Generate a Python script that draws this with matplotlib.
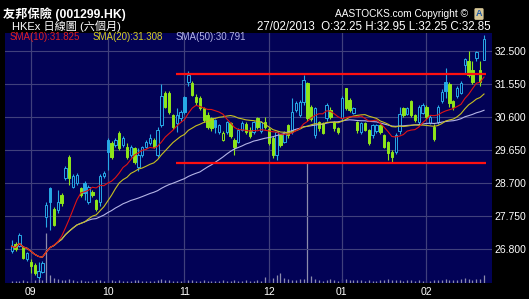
import numpy as np
import pandas as pd
import matplotlib
matplotlib.use('Agg')
import matplotlib.pyplot as plt
from matplotlib.patches import Rectangle

# dias de negociacao HKEx (27/08/2012 a 27/02/2013), sem feriados
feriados = ['2012-10-01', '2012-10-02', '2012-10-23', '2012-12-25', '2012-12-26',
            '2013-01-01', '2013-02-11', '2013-02-12', '2013-02-13']
dias = pd.bdate_range('2012-08-27', '2013-02-27')
dias = dias[~dias.isin(pd.to_datetime(feriados))]

# OHLC (ago | set | out | nov | dez | jan | fev)
abertura = [26.75, 26.95, 26.90, 26.85, 26.50,
            26.42, 26.34, 26.00, 26.14, 27.72, 28.56, 27.95, 27.92, 28.35, 28.84, 29.45, 28.59, 28.70, 28.56, 28.70, 28.15, 28.44, 28.20, 28.15, 28.89,
            29.94, 29.85, 29.80, 30.15, 29.80, 29.75, 29.50, 29.70, 29.15, 29.50, 29.75, 29.85, 29.95, 29.50, 30.37, 31.28, 31.29, 30.66, 30.43, 30.57,
            31.17, 31.60, 31.58, 31.17, 31.14, 30.86, 30.66, 30.57, 30.51, 30.17, 29.94, 30.17, 30.43, 29.95, 29.88, 30.23, 30.40, 30.23, 30.17, 30.57, 30.20, 30.46,
            30.25, 30.00, 29.50, 30.08, 29.88, 30.37, 30.17, 30.80, 30.66, 31.03, 31.58, 30.89, 30.08, 30.46, 30.43, 30.57, 30.80, 30.46, 30.28,
            30.57, 31.43, 31.09, 30.72, 30.46, 30.17, 30.43, 30.23, 30.08, 30.20, 30.37, 30.08, 29.88, 29.60, 29.60, 30.20, 30.85, 30.70, 31.05, 30.66, 30.46, 30.72,
            30.90, 30.43, 30.30, 30.46, 31.05, 31.62, 31.55, 31.05, 31.20, 31.30, 32.10, 32.20, 31.95, 32.30, 31.95, 32.25]
maxima = [27.05, 27.00, 27.25, 26.90, 26.72,
          26.50, 26.40, 26.43, 26.45, 28.15, 28.60, 28.00, 28.50, 28.40, 29.20, 29.50, 28.95, 29.00, 28.60, 28.75, 28.65, 28.50, 28.25, 28.95, 29.05,
          30.00, 29.90, 30.00, 30.20, 30.05, 29.85, 29.80, 29.75, 29.70, 29.78, 29.95, 30.10, 30.00, 30.30, 31.55, 31.35, 31.35, 30.70, 30.86, 30.80,
          31.20, 31.92, 31.65, 31.25, 31.20, 30.90, 30.75, 30.60, 30.55, 30.40, 30.20, 30.50, 30.45, 30.00, 30.28, 30.50, 30.45, 30.30, 30.50, 30.60, 30.50, 30.60,
          30.30, 30.05, 30.20, 30.10, 30.20, 30.40, 31.15, 31.05, 31.10, 31.81, 31.62, 30.95, 30.90, 30.50, 30.45, 31.00, 30.90, 30.50, 30.32,
          31.20, 31.45, 31.15, 30.90, 30.50, 30.47, 30.47, 30.25, 30.40, 30.40, 30.40, 30.10, 29.90, 29.65, 30.15, 30.90, 30.90, 30.90, 31.10, 30.70, 30.95, 31.00,
          30.95, 30.65, 30.40, 30.95, 31.40, 32.00, 31.60, 31.10, 31.50, 31.65, 32.30, 32.50, 32.20, 32.50, 32.20, 32.95]
minimas = [26.70, 26.75, 26.85, 26.50, 26.45,
           26.10, 26.05, 25.95, 26.10, 27.43, 27.35, 27.45, 27.85, 28.05, 28.80, 28.64, 28.55, 28.65, 28.30, 28.20, 28.10, 28.30, 27.90, 28.05, 28.85,
           29.07, 29.40, 29.75, 29.65, 29.75, 29.40, 29.45, 29.25, 29.05, 29.45, 29.70, 29.80, 29.70, 29.45, 30.30, 30.85, 30.70, 30.25, 30.17, 30.50,
           30.70, 31.50, 31.20, 30.95, 30.80, 30.45, 30.25, 30.20, 30.15, 30.10, 29.90, 30.10, 30.00, 29.50, 29.85, 30.20, 30.10, 30.00, 30.10, 30.25, 30.15, 30.25,
           29.80, 29.42, 29.35, 29.75, 29.85, 30.00, 30.10, 30.75, 30.60, 30.95, 30.50, 30.50, 30.00, 30.20, 30.10, 30.50, 30.55, 30.20, 30.10,
           30.50, 30.80, 30.75, 30.70, 30.15, 30.10, 30.20, 29.80, 30.00, 30.15, 30.10, 29.70, 29.36, 29.30, 29.55, 30.10, 30.60, 30.65, 30.60, 30.45, 30.40, 30.70,
           30.55, 30.40, 29.90, 30.40, 31.00, 31.15, 30.90, 30.80, 31.15, 31.25, 31.88, 31.75, 31.55, 32.20, 31.50, 32.25]
fechamento = [26.88, 26.80, 27.20, 26.55, 26.68,
              26.30, 26.12, 26.16, 26.40, 28.07, 28.15, 27.50, 28.15, 28.12, 29.13, 28.85, 28.90, 28.93, 28.35, 28.40, 28.60, 28.36, 27.95, 28.89, 29.00,
              29.60, 29.45, 29.94, 29.70, 30.00, 29.45, 29.75, 29.30, 29.50, 29.74, 29.88, 30.00, 29.75, 30.23, 31.20, 30.90, 30.75, 30.30, 30.66, 30.74,
              30.75, 31.81, 31.23, 31.03, 30.86, 30.51, 30.31, 30.28, 30.30, 30.37, 30.14, 30.46, 30.05, 29.75, 30.23, 30.43, 30.17, 30.05, 30.46, 30.30, 30.46, 30.30,
              29.85, 29.50, 30.17, 29.80, 30.17, 30.08, 30.74, 31.00, 31.03, 31.67, 30.57, 30.55, 30.86, 30.28, 30.15, 30.95, 30.60, 30.28, 30.17,
              31.14, 30.86, 30.80, 30.86, 30.23, 30.43, 30.23, 29.85, 30.37, 30.38, 30.17, 29.74, 29.56, 29.45, 30.08, 30.70, 30.65, 30.86, 30.66, 30.51, 30.89, 30.95,
              30.60, 30.60, 29.98, 30.90, 31.32, 31.35, 31.00, 30.88, 31.45, 31.58, 32.27, 31.82, 31.60, 32.47, 31.60, 32.85]
# volume (milhoes, aproximado pela altura das barras)
volume = [12, 14, 10, 16, 12,
          14, 18, 22, 20, 290, 45, 30, 22, 18, 20, 24, 16, 14, 18, 14, 12, 14, 16, 18, 14,
          20, 16, 14, 18, 12, 14, 12, 16, 18, 14, 12, 14, 12, 16, 22, 18, 16, 14, 12, 14,
          16, 20, 18, 14, 12, 16, 14, 12, 14, 12, 16, 14, 12, 18, 14, 12, 16, 14, 12, 18, 14, 35,
          22, 28, 45, 60, 30, 24, 20, 18, 22, 26, 700, 40, 24, 18, 14, 16, 22, 18, 14,
          26, 22, 18, 16, 20, 18, 14, 16, 14, 12, 16, 18, 22, 20, 18, 16, 14, 16, 18, 14, 16, 14,
          12, 14, 18, 16, 20, 24, 18, 16, 20, 22, 28, 24, 20, 26, 22, 48]

# linhas de suporte/resistencia desenhadas no grafico
resistencia = 31.83
suporte = 29.29
linha_inicio, linha_fim = 42.8, 123.5

titulo = '友邦保險 (001299.HK)'
subtitulo = 'HKEx 日線圖 (六個月)'
cabecalho = '27/02/2013  O:32.25 H:32.95 L:32.25 C:32.85'
legenda_sma = ['SMA(10):31.825', 'SMA(20):31.308', 'SMA(50):30.791']
niveis = [26.80, 27.75, 28.70, 29.65, 30.60, 31.55, 32.50]

fundo = '#020256'
ciano = '#27a9e6'
verde = '#8fe61a'
cores_sma = ['#e01414', '#c8c020', '#b4b4e6']
fonte = ['Liberation Sans', 'Noto Sans CJK TC']

df = pd.DataFrame({'o': abertura, 'h': maxima, 'l': minimas, 'c': fechamento})
x = np.arange(len(df))
sma10 = df['c'].rolling(10, min_periods=1).mean()
sma20 = df['c'].rolling(20, min_periods=1).mean()
sma50 = df['c'].rolling(50, min_periods=1).mean()

W, H = 529, 299
fig = plt.figure(figsize=(W / 100, H / 100), dpi=100, facecolor='black')
ax_vol = fig.add_axes([5 / W, 1 - 283 / H, 487 / W, 250 / H])
ax = fig.add_axes([5 / W, 1 - 283 / H, 487 / W, 250 / H], sharex=ax_vol)
ax.set_zorder(ax_vol.get_zorder() + 1)
ax.patch.set_visible(False)
ax_vol.set_facecolor(fundo)

# volume ao fundo
ax_vol.vlines(x, 0, volume, color='#8c8cac', lw=0.9)
ax_vol.set_ylim(0, 1460)
ax_vol.set_yticks([])
for s in ax_vol.spines.values():
    s.set_visible(False)

# candles
largura = 0.62
prev = None
for i, (o, h, l, c) in enumerate(zip(abertura, maxima, minimas, fechamento)):
    cor = ciano if (prev is None or c >= prev) else verde
    cheio = c < o
    ax.vlines(i, l, h, color=cor, lw=0.8, zorder=3)
    base = min(o, c)
    alt = max(abs(c - o), 0.02)
    ax.add_patch(Rectangle((i - largura / 2, base), largura, alt,
                           facecolor=cor if cheio else fundo, edgecolor=cor,
                           lw=0.7, zorder=4))
    prev = c

ax.plot(x, sma50, color=cores_sma[2], lw=0.8, zorder=5)
ax.plot(x, sma20, color=cores_sma[1], lw=0.8, zorder=5)
ax.plot(x, sma10, color=cores_sma[0], lw=0.8, zorder=5)

ax.hlines([resistencia, suporte], linha_inicio, linha_fim, color='#ff1010', lw=1.6, zorder=6)

# grade e eixos
inicio_mes = [i for i in range(1, len(dias)) if dias[i].month != dias[i - 1].month]
ax.set_xticks(inicio_mes)
ax.set_xticklabels([dias[i].strftime('%m') for i in inicio_mes])
ax.set_yticks(niveis)
ax.set_yticklabels(['%.3f' % v for v in niveis])
ax.yaxis.tick_right()
ax.tick_params(length=0, colors='white', labelsize=7.5, pad=2)
ax.tick_params(axis='x', pad=3)
for lab in ax.get_xticklabels() + ax.get_yticklabels():
    lab.set_family(fonte)
ax.grid(True, color='#40407c', lw=0.8, zorder=0)
ax.set_axisbelow(True)
ax_vol.set_xticks(inicio_mes)
ax_vol.grid(True, axis='x', color='#40407c', lw=0.8)
ax_vol.tick_params(length=0, labelbottom=False)
ax.set_xlim(-1.745, 125.08)
ax.set_ylim(25.822, 33.02)
for s in ax.spines.values():
    s.set_visible(False)

# textos
fig.text(3 / W, 1 - 14 / H, titulo, color='white', fontsize=8.8, fontweight='bold',
         family=fonte, va='center', ha='left')
fig.text(12 / W, 1 - 26.5 / H, subtitulo, color='white', fontsize=8,
         family=fonte, va='center', ha='left')
fig.text(491 / W, 1 - 27 / H, cabecalho, color='white', fontsize=8.3,
         family=fonte, va='center', ha='right')
fig.text(468 / W, 1 - 14 / H, 'AASTOCKS.com Copyright ©', color='white', fontsize=7.3,
         family=fonte, va='center', ha='right')
fig.text(479 / W, 1 - 14 / H, 'A', color='#1e5aa8', fontsize=6.5, fontweight='bold',
         family=fonte, va='center', ha='center',
         bbox=dict(boxstyle='round,pad=0.15', facecolor='#d8c898', edgecolor='none'))
for txt, xp, cor in zip(legenda_sma, [10, 93, 176], ['#e02020', '#d8d020', '#b4b4e6']):
    fig.text(xp / W, 1 - 37.5 / H, txt, color=cor, fontsize=7, family=fonte,
             va='center', ha='left')

fig.savefig('out.png', dpi=100, facecolor='black')
